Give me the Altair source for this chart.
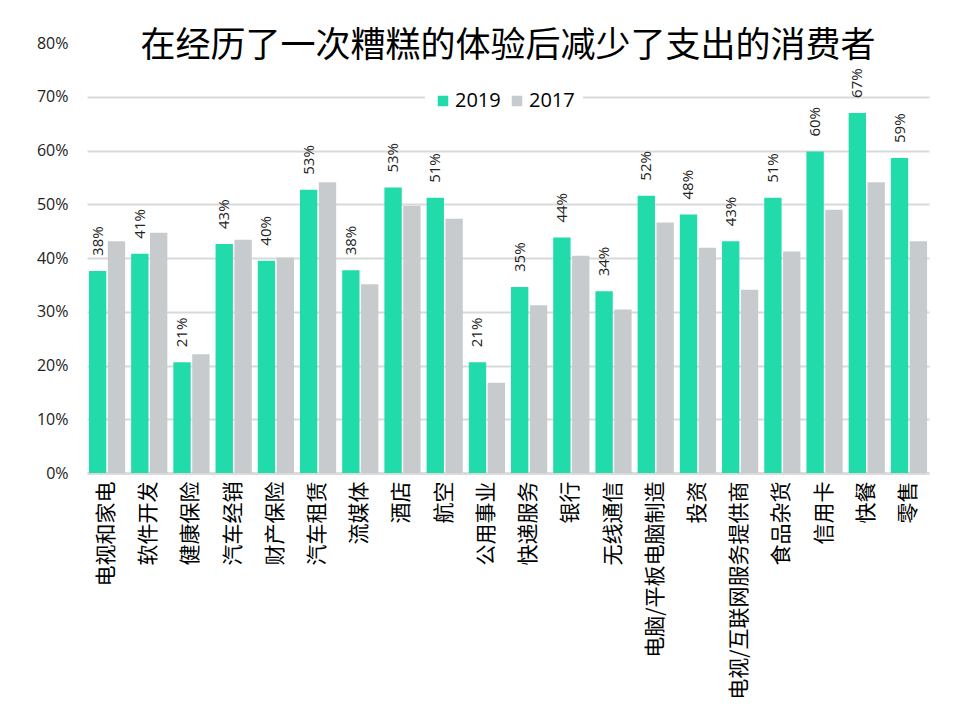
import altair as alt
import pandas as pd

categories = ["电视和家电", "软件开发", "健康保险", "汽车经销", "财产保险", "汽车租赁", "流媒体",
              "酒店", "航空", "公用事业", "快递服务", "银行", "无线通信", "电脑/平板电脑制造",
              "投资", "电视/互联网服务提供商", "食品杂货", "信用卡", "快餐", "零售"]
v2019 = [0.376, 0.408, 0.206, 0.426, 0.395, 0.527, 0.377, 0.531, 0.512, 0.206,
         0.346, 0.438, 0.338, 0.516, 0.481, 0.431, 0.512, 0.598, 0.670, 0.586]
v2017 = [0.431, 0.447, 0.221, 0.434, 0.401, 0.541, 0.351, 0.497, 0.473, 0.168,
         0.312, 0.404, 0.304, 0.466, 0.419, 0.341, 0.412, 0.490, 0.541, 0.431]
years = ["2019", "2017"]
colors = ["#21DBAA", "#C8CBCE"]
y_ticks = [0, 0.1, 0.2, 0.3, 0.4, 0.5, 0.6, 0.7, 0.8]
title_text = "在经历了一次糟糕的体验后减少了支出的消费者"

rows = []
for c, a, b in zip(categories, v2019, v2017):
    rows.append({"cat": c, "year": "2019", "value": a})
    rows.append({"cat": c, "year": "2017", "value": b})
df = pd.DataFrame(rows)

x = alt.X("cat:N", sort=categories,
          scale=alt.Scale(paddingInner=0.142, paddingOuter=0.046),
          axis=alt.Axis(title=None, labelAngle=-90, labelFont="Noto Sans CJK SC",
                        labelFontSize=21, labelColor="black", labelPadding=8,
                        ticks=False, domainColor="#D9D9D9", domainWidth=2.5,
                        labelLimit=400))
y = alt.Y("value:Q", scale=alt.Scale(domain=[0, 0.8], nice=False),
          axis=alt.Axis(title=None, format=".0%", values=y_ticks, domain=False,
                        ticks=False, labelPadding=19, labelFontSize=16,
                        labelFont="Open Sans", labelColor="#222222",
                        gridColor=alt.condition("datum.value >= 0.8",
                                                alt.value("transparent"),
                                                alt.value("#D9D9D9")),
                        gridWidth=2))
xo = alt.XOffset("year:N", sort=years, scale=alt.Scale(domain=years, paddingInner=0.08))

bars = alt.Chart(df).mark_bar().encode(
    x=x, xOffset=xo, y=y,
    color=alt.Color("year:N", sort=years,
                    scale=alt.Scale(domain=years, range=colors),
                    legend=alt.Legend(title=None, orient="none", legendX=338, legendY=40,
                                      direction="horizontal", symbolType="square",
                                      symbolSize=110, symbolStrokeWidth=0,
                                      labelFontSize=20, labelFont="Open Sans",
                                      labelColor="black", fillColor="white",
                                      padding=8, columnPadding=6, labelOffset=2)),
)

labels = alt.Chart(df).transform_filter("datum.year == '2019'").mark_text(
    angle=270, align="left", baseline="middle", dx=15, fontSize=15,
    font="Open Sans", color="#222222"
).encode(x=x, xOffset=xo, y=y, text=alt.Text("value:Q", format=".0%"))

chart = alt.layer(bars, labels).properties(
    width=842, height=430,
    title=alt.TitleParams(title_text, fontSize=35, font="Noto Sans CJK SC",
                          fontWeight="normal", anchor="middle", color="black", dy=33),
    autosize=alt.AutoSizeParams(type="none"),
    padding={"left": 79, "top": 35, "right": 40, "bottom": 240},
).configure_view(stroke=None)

chart.save("out.html", embed_options={"renderer": "svg", "actions": False})
